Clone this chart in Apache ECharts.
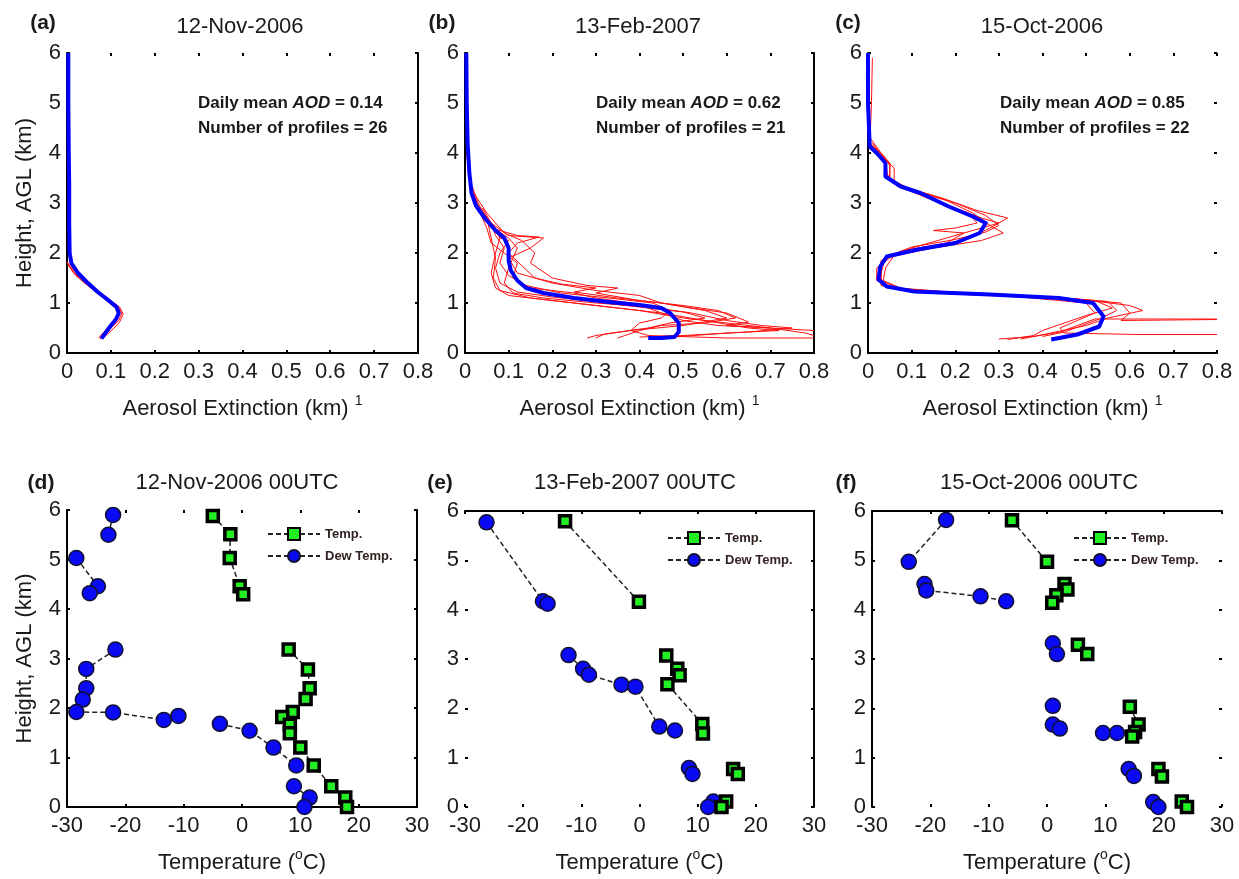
<!DOCTYPE html>
<html>
<head>
<meta charset="utf-8">
<script src="https://cdn.jsdelivr.net/npm/echarts@6/dist/echarts.min.js"></script>
<style>
  html, body { margin: 0; background: #fff; }
  #chart { width: 1239px; height: 879px; }
</style>
</head>
<body>
<div id="chart"></div>
<script>
// ---- aerosol extinction profiles: [extinction km^-1, height km] ----
const meanA = [[0.003,6.0],[0.003,5.0],[0.004,4.0],[0.005,3.4],[0.005,2.6],[0.006,2.0],[0.01,1.8],[0.025,1.6],[0.045,1.42],[0.07,1.22],[0.095,1.05],[0.113,0.92],[0.118,0.8],[0.112,0.68],[0.1,0.55],[0.09,0.43],[0.082,0.33],[0.078,0.29]];
const redA = [
  [[0.0,1.82],[0.02,1.62],[0.05,1.38],[0.085,1.15],[0.115,0.95],[0.125,0.8],[0.118,0.65],[0.1,0.5],[0.085,0.36],[0.075,0.28]],
  [[0.002,1.78],[0.015,1.6],[0.04,1.4],[0.075,1.18],[0.105,0.98],[0.12,0.85],[0.115,0.7],[0.095,0.52],[0.08,0.38],[0.072,0.3]],
  [[0.003,1.75],[0.03,1.5],[0.06,1.3],[0.09,1.1],[0.12,0.92],[0.128,0.78],[0.12,0.62],[0.105,0.48],[0.09,0.36],[0.08,0.29]],
  [[0.001,1.8],[0.02,1.55],[0.05,1.33],[0.08,1.12],[0.11,0.9],[0.118,0.75],[0.108,0.58],[0.092,0.45],[0.078,0.33]]
];

const meanB = [[0.003,6.0],[0.004,5.0],[0.006,4.2],[0.01,3.6],[0.015,3.2],[0.025,2.95],[0.045,2.7],[0.07,2.45],[0.09,2.3],[0.1,2.1],[0.1,1.85],[0.105,1.65],[0.12,1.45],[0.14,1.3],[0.18,1.2],[0.25,1.1],[0.33,1.02],[0.4,0.96],[0.45,0.9],[0.47,0.8],[0.49,0.6],[0.49,0.42],[0.48,0.32],[0.45,0.3],[0.42,0.3]];
const redB = [
  [[0.005,4.2],[0.01,3.6],[0.02,3.1],[0.04,2.8],[0.07,2.5],[0.08,2.3],[0.07,2.0],[0.06,1.6],[0.07,1.3],[0.1,1.15],[0.2,1.05],[0.3,0.95],[0.4,0.85],[0.5,0.7],[0.7,0.5],[0.78,0.4],[0.8,0.35]],
  [[0.003,4.0],[0.015,3.3],[0.03,2.9],[0.06,2.6],[0.1,2.35],[0.18,2.3],[0.15,2.1],[0.1,1.9],[0.12,1.6],[0.2,1.4],[0.3,1.25],[0.4,1.15],[0.45,1.0],[0.55,0.85],[0.6,0.7],[0.5,0.55],[0.38,0.45],[0.3,0.35],[0.28,0.3]],
  [[0.01,3.5],[0.03,3.0],[0.05,2.7],[0.06,2.3],[0.07,1.9],[0.065,1.5],[0.08,1.25],[0.15,1.1],[0.25,1.0],[0.35,0.9],[0.45,0.8],[0.55,0.65],[0.65,0.5],[0.72,0.45],[0.6,0.4],[0.45,0.3]],
  [[0.02,3.2],[0.05,2.8],[0.09,2.4],[0.13,2.25],[0.16,2.0],[0.15,1.8],[0.2,1.5],[0.28,1.35],[0.35,1.3],[0.3,1.2],[0.4,1.05],[0.5,0.95],[0.58,0.85],[0.62,0.7],[0.55,0.6],[0.45,0.55],[0.4,0.45],[0.35,0.3]],
  [[0.01,3.3],[0.03,2.9],[0.05,2.5],[0.06,2.2],[0.09,2.0],[0.12,1.8],[0.11,1.5],[0.15,1.3],[0.25,1.2],[0.3,1.1],[0.38,1.0],[0.42,0.9],[0.45,0.8],[0.5,0.65],[0.58,0.55],[0.7,0.5],[0.8,0.45]],
  [[0.04,2.9],[0.06,2.6],[0.07,2.35],[0.09,2.1],[0.08,1.8],[0.1,1.55],[0.14,1.35],[0.22,1.2],[0.33,1.1],[0.43,1.0],[0.47,0.85],[0.45,0.7],[0.4,0.6],[0.38,0.45],[0.42,0.35],[0.6,0.3],[0.8,0.3]],
  [[0.02,3.0],[0.05,2.6],[0.1,2.3],[0.12,2.1],[0.1,1.7],[0.09,1.4],[0.11,1.2],[0.18,1.1],[0.3,1.0],[0.42,0.92],[0.52,0.8],[0.6,0.65],[0.68,0.55],[0.75,0.5],[0.65,0.42],[0.5,0.35],[0.4,0.32]],
  [[0.01,3.4],[0.03,2.95],[0.06,2.6],[0.08,2.3],[0.1,2.25],[0.08,2.0],[0.07,1.7],[0.08,1.4],[0.12,1.22],[0.2,1.12],[0.28,1.05],[0.35,0.97],[0.42,0.9],[0.5,0.82],[0.55,0.7],[0.47,0.6],[0.42,0.5],[0.32,0.38],[0.3,0.3]],
  [[0.02,3.1],[0.04,2.75],[0.06,2.5],[0.12,2.35],[0.17,2.32],[0.12,2.2],[0.1,2.0],[0.13,1.75],[0.16,1.5],[0.22,1.38],[0.3,1.3],[0.25,1.22],[0.35,1.1],[0.45,1.0],[0.52,0.9],[0.6,0.8],[0.65,0.62],[0.6,0.55],[0.7,0.5]]
];

const meanC = [[0.0,6.0],[0.0,5.0],[0.004,4.13],[0.02,4.0],[0.04,3.8],[0.04,3.53],[0.075,3.33],[0.12,3.2],[0.185,2.93],[0.24,2.73],[0.27,2.6],[0.256,2.4],[0.2,2.2],[0.114,2.07],[0.043,1.93],[0.028,1.73],[0.024,1.47],[0.043,1.33],[0.106,1.23],[0.28,1.17],[0.437,1.1],[0.516,1.0],[0.54,0.73],[0.53,0.53],[0.48,0.37],[0.42,0.27]];
const redC = [
  [[0.01,5.9],[0.008,5.0],[0.005,4.3],[0.03,4.0],[0.05,3.8],[0.05,3.5],[0.09,3.3],[0.17,3.1],[0.25,2.85],[0.32,2.7],[0.28,2.5],[0.22,2.25],[0.12,2.05],[0.04,1.9],[0.03,1.6],[0.03,1.35],[0.1,1.22],[0.3,1.15],[0.48,1.08],[0.6,0.95],[0.63,0.85],[0.55,0.7],[0.5,0.55],[0.42,0.4],[0.35,0.28]],
  [[0.005,4.2],[0.04,3.9],[0.04,3.6],[0.07,3.35],[0.13,3.15],[0.2,2.9],[0.26,2.7],[0.3,2.6],[0.24,2.45],[0.18,2.3],[0.1,2.1],[0.05,1.9],[0.02,1.7],[0.02,1.45],[0.06,1.3],[0.2,1.2],[0.4,1.12],[0.52,1.05],[0.56,0.9],[0.5,0.75],[0.45,0.6],[0.4,0.45],[0.38,0.35],[0.32,0.27]],
  [[0.003,4.1],[0.03,3.95],[0.06,3.7],[0.06,3.4],[0.1,3.25],[0.18,3.05],[0.24,2.8],[0.28,2.55],[0.31,2.4],[0.26,2.25],[0.15,2.1],[0.06,1.95],[0.04,1.7],[0.035,1.45],[0.08,1.28],[0.25,1.18],[0.45,1.1],[0.58,1.0],[0.6,0.8],[0.58,0.65],[0.8,0.67]],
  [[0.01,4.2],[0.04,3.85],[0.045,3.55],[0.08,3.3],[0.15,3.05],[0.23,2.8],[0.25,2.6],[0.2,2.5],[0.15,2.45],[0.22,2.4],[0.18,2.2],[0.08,2.05],[0.03,1.85],[0.025,1.55],[0.04,1.32],[0.15,1.2],[0.35,1.12],[0.5,1.0],[0.52,0.8],[0.48,0.65],[0.44,0.5],[0.45,0.4],[0.62,0.37],[0.8,0.37]],
  [[0.0,4.2],[0.03,4.0],[0.05,3.75],[0.05,3.45],[0.1,3.28],[0.2,3.0],[0.27,2.75],[0.3,2.55],[0.27,2.42],[0.2,2.27],[0.1,2.12],[0.05,1.95],[0.03,1.75],[0.03,1.45],[0.07,1.3],[0.22,1.2],[0.42,1.12],[0.55,1.03],[0.57,0.85],[0.53,0.68],[0.49,0.55],[0.45,0.42],[0.4,0.33]],
  [[0.3,0.28],[0.38,0.33],[0.44,0.42],[0.48,0.55],[0.52,0.68],[0.62,0.68],[0.8,0.68]]
];

// ---- radiosonde soundings: [temperature degC, height km], null = gap ----
const tempD = [[-5.0,5.88],[-2.0,5.51],[-2.1,5.03],[-0.4,4.46],[0.2,4.30],null,[8.0,3.18],[11.3,2.78],[11.6,2.40],[10.9,2.18],[8.7,1.92],[6.9,1.82],[8.2,1.66],[8.2,1.49],[10.0,1.20],[12.3,0.84],[15.3,0.42],[17.7,0.19],[18.0,0.0]];
const dewD = [[-22.1,5.90],[-22.9,5.50],null,[-28.4,5.03],[-24.7,4.46],[-26.1,4.32],null,[-21.7,3.18],[-26.7,2.79],[-26.7,2.40],[-27.3,2.17],[-28.4,1.92],[-22.1,1.91],[-13.4,1.76],[-10.9,1.84],null,[-3.8,1.68],[1.3,1.54],[5.4,1.20],[9.3,0.84],null,[8.9,0.42],[11.6,0.19],[10.7,0.0]];
const tempE = [[-12.8,5.79],[-0.1,4.16],null,[4.6,3.07],[6.5,2.80],[6.9,2.67],[4.8,2.49],[10.8,1.68],[10.9,1.49],null,[16.1,0.77],[16.9,0.67],null,[14.9,0.11],[14.1,0.0]];
const dewE = [[-26.3,5.77],[-16.6,4.17],[-15.8,4.12],null,[-12.2,3.08],[-9.7,2.80],[-8.7,2.68],[-3.1,2.48],[-0.7,2.44],[3.4,1.63],[6.1,1.55],null,[8.5,0.79],[9.1,0.67],null,[12.7,0.11],[11.8,0.0]];
const tempF = [[-6.0,5.81],[0.0,4.97],null,[3.0,4.52],[3.5,4.41],[1.6,4.29],[0.9,4.14],null,[5.3,3.29],[6.9,3.10],null,[14.2,2.03],[15.7,1.67],[15.1,1.52],[14.6,1.43],null,[19.1,0.77],[19.7,0.62],null,[23.1,0.11],[24.0,0.0]];
const dewF = [[-17.3,5.82],[-23.7,4.97],null,[-21.0,4.52],[-20.7,4.39],[-11.4,4.27],[-7.0,4.17],null,[1.0,3.32],[1.7,3.10],null,[1.0,2.05],null,[1.0,1.67],[2.2,1.59],null,[9.6,1.50],[12.0,1.50],null,[14.0,0.77],[14.9,0.63],null,[18.2,0.10],[19.1,0.0]];

const dates = ['12-Nov-2006', '13-Feb-2007', '15-Oct-2006'];
const letters = ['(a)', '(b)', '(c)', '(d)', '(e)', '(f)'];
const aod = ['0.14', '0.62', '0.85'];
const nProfiles = ['26', '21', '22'];
const legendNames = ['Temp.', 'Dew Temp.'];

const FONT = '"Liberation Sans", Arial, sans-serif';
const INK = '#1a1a1a';

// panel boxes [left, top, width, height] and which frame sides are drawn [left, bottom, right, top]
const boxes = [
  [67, 53, 351, 300], [465, 53, 349, 300], [868, 53, 349, 300],
  [67, 510, 350, 299], [465, 511, 349, 300], [872, 511, 350, 300]
];
const frames = [
  [1, 1, 1, 0], [1, 1, 1, 0], [1, 1, 0, 0],
  [1, 1, 1, 0], [0, 0, 1, 1], [1, 0, 0, 1]
];

const chart = echarts.init(document.getElementById('chart'));

const grid = [], xAxis = [], yAxis = [], series = [];
const axisLine = on => ({ show: !!on, onZero: false, lineStyle: { color: '#000', width: 2 } });
const tick = { show: true, inside: true, length: 3, lineStyle: { color: '#000', width: 2 } };
const tickLabel = (margin) => ({ fontSize: 22, color: INK, fontFamily: FONT, margin });

boxes.forEach((b, i) => {
  const top = i < 3;
  const f = frames[i];
  grid.push({ left: b[0], top: b[1], width: b[2], height: b[3] });
  const xr = top ? { min: 0, max: 0.8, interval: 0.1 } : { min: -30, max: 30, interval: 10 };
  xAxis.push(Object.assign({
    gridIndex: i, type: 'value', position: 'bottom',
    axisLine: axisLine(f[1]), axisTick: tick,
    axisLabel: tickLabel(8), splitLine: { show: false },
    nameLocation: 'middle', nameGap: 41,
    nameTextStyle: {
      fontSize: 22, color: INK, fontFamily: FONT, lineHeight: 30,
      rich: { s: { fontSize: 14, lineHeight: 14, verticalAlign: 'top', color: INK, fontFamily: FONT } }
    },
    name: top ? 'Aerosol Extinction (km) {s|1}' : 'Temperature ({s|o}C)'
  }, xr));
  xAxis.push(Object.assign({
    gridIndex: i, type: 'value', position: 'top',
    axisLine: axisLine(f[3]), axisTick: tick,
    axisLabel: { show: false }, splitLine: { show: false }
  }, xr));
  yAxis.push({
    gridIndex: i, type: 'value', position: 'left', min: 0, max: 6, interval: 1,
    axisLine: axisLine(f[0]), axisTick: tick,
    axisLabel: tickLabel(6), splitLine: { show: false },
    name: (i === 0 || i === 3) ? 'Height, AGL (km)' : '',
    nameLocation: 'middle', nameGap: 31, nameRotate: 90,
    nameTextStyle: { fontSize: 22, color: INK, fontFamily: FONT }
  });
  yAxis.push({
    gridIndex: i, type: 'value', position: 'right', min: 0, max: 6, interval: 1,
    axisLine: axisLine(f[2]), axisTick: tick,
    axisLabel: { show: false }, splitLine: { show: false }
  });
});

function profile(gi, pts, color, width, z) {
  series.push({
    type: 'line', xAxisIndex: gi * 2, yAxisIndex: gi * 2, data: pts,
    symbol: 'none', showSymbol: false, silent: true, z,
    lineStyle: { color, width, join: 'round' }
  });
}
[[redA, meanA], [redB, meanB], [redC, meanC]].forEach(([reds, mean], gi) => {
  reds.forEach(r => profile(gi, r, '#ff1010', 1, 2));
  profile(gi, mean, '#0000ff', 4, 3);
});

function sounding(gi, pts, name) {
  const isTemp = name === 'Temp.';
  series.push({
    type: 'line', name, xAxisIndex: gi * 2, yAxisIndex: gi * 2,
    data: pts.map(p => p ? p : ['-', '-']),
    connectNulls: false, clip: false,
    symbol: isTemp ? 'rect' : 'circle',
    symbolSize: isTemp ? 11 : 15,
    showAllSymbol: true,
    lineStyle: { color: '#222', width: 1.5, type: [5, 3] },
    itemStyle: isTemp
      ? { color: '#22f022', borderColor: '#000', borderWidth: 3.5 }
      : { color: '#0a0af5', borderColor: '#101030', borderWidth: 1.5 },
    z: isTemp ? 4 : 3
  });
}
[[tempD, dewD], [tempE, dewE], [tempF, dewF]].forEach(([t, d], k) => {
  sounding(k + 3, t, 'Temp.');
  sounding(k + 3, d, 'Dew Temp.');
});

const legendPos = [[262, 522], [662, 526], [1068, 526]];
const legend = legendPos.map(p => ({
  data: legendNames, orient: 'vertical', left: p[0], top: p[1],
  itemWidth: 52, itemHeight: 15, itemGap: 8, selectedMode: false,
  textStyle: { fontSize: 13, fontWeight: 'bold', color: '#332222', fontFamily: FONT }
}));

const graphic = [];
function text(x, y, t, opts) {
  graphic.push({
    type: 'text', x, y, silent: true,
    style: Object.assign({
      text: t, fill: INK, font: '22px ' + FONT, align: 'center', verticalAlign: 'middle'
    }, opts || {})
  });
}
const titleX = [240, 638, 1042];
const letterX = [43, 442, 848];
dates.forEach((d, k) => {
  text(titleX[k], 27, d);
  text(titleX[k] - 3, 483, d + ' 00UTC');
  text(letterX[k], 23, letters[k], { font: 'bold 21px ' + FONT });
  text(letterX[k] - 2, 483, letters[k + 3], { font: 'bold 21px ' + FONT });
});
const noteX = [198, 596, 1000];
noteX.forEach((x, k) => {
  text(x, 103, 'Daily mean {i|AOD} = ' + aod[k], {
    align: 'left', font: 'bold 17px ' + FONT,
    rich: { i: { fontStyle: 'italic', fontWeight: 'bold', fontSize: 17, fontFamily: FONT, fill: INK } }
  });
  text(x, 128, 'Number of profiles = ' + nProfiles[k], { align: 'left', font: 'bold 17px ' + FONT });
});

chart.setOption({
  animation: false,
  backgroundColor: '#fff',
  grid, xAxis, yAxis, series, legend, graphic
});
</script>
</body>
</html>
